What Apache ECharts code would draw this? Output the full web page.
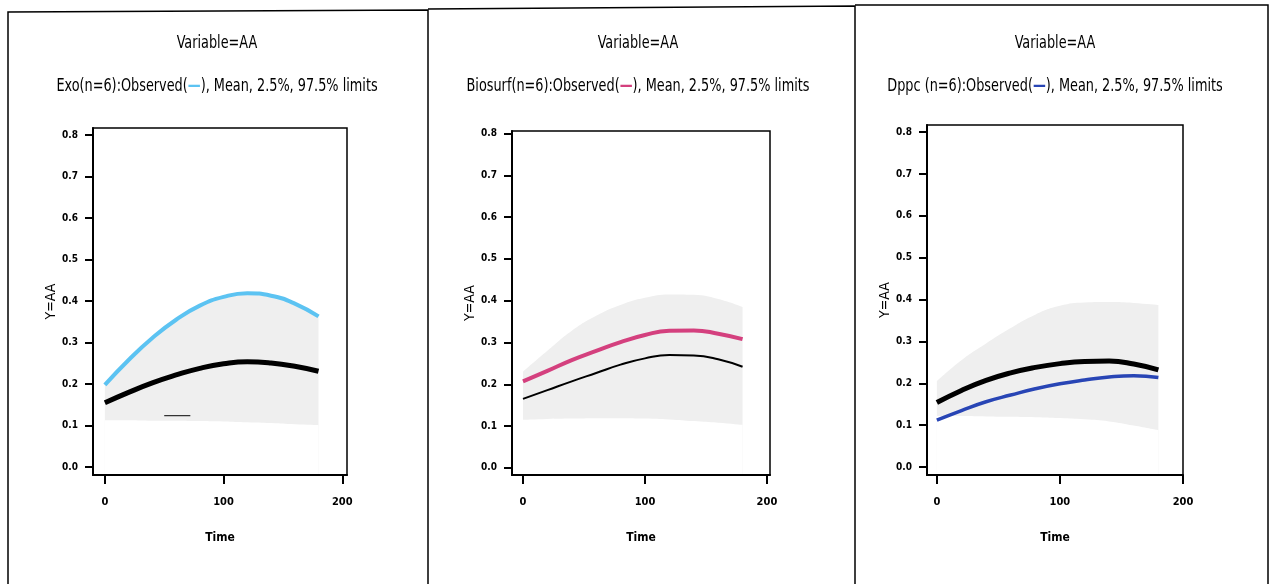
<!DOCTYPE html>
<html>
<head>
<meta charset="utf-8">
<script src="https://cdn.jsdelivr.net/npm/echarts@6/dist/echarts.min.js"></script>
<style>
html,body{margin:0;padding:0;background:#fff;}
#main{width:1275px;height:584px;}
</style>
</head>
<body>
<div id="main"></div>
<script>
// ---- data ----
const timePoints = [0, 20, 40, 60, 80, 100, 120, 140, 160, 180];
const yTickValues = [0, 0.1, 0.2, 0.3, 0.4, 0.5, 0.6, 0.7, 0.8];
const xTickValues = [0, 100, 200];

const panelNames = ['Exo', 'Biosurf', 'Dppc'];
const variableTitle = 'Variable=AA';

// Exo
const exoObserved = [0.198, 0.258, 0.311, 0.355, 0.389, 0.410, 0.419, 0.413, 0.394, 0.363];
const exoMean     = [0.155, 0.180, 0.203, 0.222, 0.238, 0.249, 0.254, 0.251, 0.243, 0.231];
const exoUpper    = [0.200, 0.260, 0.313, 0.358, 0.391, 0.412, 0.421, 0.415, 0.396, 0.364];
const exoLower    = [0.113, 0.113, 0.112, 0.112, 0.111, 0.110, 0.108, 0.106, 0.103, 0.101];
const exoLowerFragmentX = [50, 72];
const exoLowerFragmentY = [0.124, 0.124];

// Biosurf
const bioObserved = [0.207, 0.232, 0.258, 0.280, 0.301, 0.318, 0.328, 0.329, 0.321, 0.308];
const bioMean     = [0.165, 0.186, 0.207, 0.227, 0.247, 0.262, 0.270, 0.269, 0.260, 0.242];
const bioUpper    = [0.230, 0.280, 0.328, 0.364, 0.390, 0.407, 0.415, 0.414, 0.404, 0.385];
const bioLower    = [0.115, 0.117, 0.118, 0.119, 0.119, 0.118, 0.116, 0.112, 0.108, 0.103];

// Dppc
const dppcObserved = [0.112, 0.135, 0.156, 0.172, 0.187, 0.199, 0.208, 0.215, 0.218, 0.214];
const dppcMean     = [0.154, 0.183, 0.207, 0.225, 0.238, 0.247, 0.252, 0.253, 0.246, 0.232];
const dppcUpper    = [0.205, 0.255, 0.295, 0.332, 0.364, 0.385, 0.393, 0.394, 0.392, 0.387];
const dppcLower    = [0.122, 0.122, 0.121, 0.120, 0.119, 0.117, 0.114, 0.109, 0.099, 0.088];

// ---- build ----
const FONT = "'Liberation Sans Narrow','DejaVu Sans Condensed','Arial Narrow',sans-serif";
const panels = [
  {name: panelNames[0], obs: exoObserved, mean: exoMean, up: exoUpper, lo: exoLower,
   obsColor: '#5cc3f2', obsWidth: 4, meanWidth: 5,
   grid: {left: 93, top: 128, width: 254, height: 347}, xr: [-10, 204], yr: [-0.019, 0.817], cx: 217},
  {name: panelNames[1], obs: bioObserved, mean: bioMean, up: bioUpper, lo: bioLower,
   obsColor: '#d4407e', obsWidth: 4, meanWidth: 2,
   grid: {left: 512, top: 131, width: 258, height: 344}, xr: [-9, 202.5], yr: [-0.017, 0.806], cx: 638},
  {name: panelNames[2], obs: dppcObserved, mean: dppcMean, up: dppcUpper, lo: dppcLower,
   obsColor: '#2845b5', obsWidth: 3.5, meanWidth: 5,
   grid: {left: 927, top: 125, width: 256, height: 350}, xr: [-8, 200], yr: [-0.019, 0.817], cx: 1055}
];

const grids = [], xAxes = [], yAxes = [], series = [], graphics = [];
panels.forEach((p, i) => {
  grids.push(Object.assign({show: true, borderColor: '#000', borderWidth: 1.5, backgroundColor: 'transparent'}, p.grid));
  xAxes.push({
    type: 'value', gridIndex: i, min: p.xr[0], max: p.xr[1], z: 10,
    name: 'Time', nameLocation: 'middle', nameGap: 57,
    nameTextStyle: {fontFamily: FONT, fontWeight: 'bold', fontSize: 12, color: '#000'},
    axisLine: {show: true, onZero: false, lineStyle: {color: '#000', width: 2}},
    axisTick: {show: true, length: 9, lineStyle: {color: '#000', width: 2}, customValues: xTickValues},
    axisLabel: {customValues: xTickValues, fontFamily: FONT, fontWeight: 'bold', fontSize: 11, color: '#000', margin: 22,
      formatter: v => String(Math.round(v))},
    splitLine: {show: false}
  });
  yAxes.push({
    type: 'value', gridIndex: i, min: p.yr[0], max: p.yr[1], z: 10,
    name: 'Y=AA', nameLocation: 'middle', nameGap: 35,
    nameTextStyle: {fontFamily: FONT, fontSize: 14, color: '#000'},
    axisLine: {show: true, onZero: false, lineStyle: {color: '#000', width: 2}},
    axisTick: {show: true, length: 8, lineStyle: {color: '#000', width: 2}, customValues: yTickValues},
    axisLabel: {customValues: yTickValues, fontFamily: FONT, fontWeight: 'bold', fontSize: 10, color: '#000', margin: 15,
      formatter: v => v.toFixed(1)},
    splitLine: {show: false}
  });
  // limits band: gray area under the 97.5% curve, then white area under the 2.5% curve
  series.push({
    type: 'line', xAxisIndex: i, yAxisIndex: i, z: 1, smooth: true, showSymbol: false, silent: true,
    data: timePoints.map((t, k) => [t, p.up[k]]),
    lineStyle: {width: 0, opacity: 0},
    areaStyle: {color: '#efefef', opacity: 1, origin: 'start'}
  });
  series.push({
    type: 'line', xAxisIndex: i, yAxisIndex: i, z: 1.5, smooth: true, showSymbol: false, silent: true,
    data: timePoints.map((t, k) => [t, p.lo[k]]),
    lineStyle: {width: 0, opacity: 0},
    areaStyle: {color: '#ffffff', opacity: 1, origin: 'start'}
  });
  series.push({
    type: 'line', xAxisIndex: i, yAxisIndex: i, z: 3, smooth: true, showSymbol: false, silent: true,
    data: timePoints.map((t, k) => [t, p.mean[k]]),
    lineStyle: {color: '#000', width: p.meanWidth}
  });
  series.push({
    type: 'line', xAxisIndex: i, yAxisIndex: i, z: 4, smooth: true, showSymbol: false, silent: true,
    data: timePoints.map((t, k) => [t, p.obs[k]]),
    lineStyle: {color: p.obsColor, width: p.obsWidth}
  });
  graphics.push({
    type: 'text', x: p.cx, y: 44, scaleX: 0.84,
    style: {text: variableTitle, fill: '#000', fontFamily: FONT, fontSize: 17,
      textAlign: 'center', textVerticalAlign: 'middle'}
  });
  const nm = p.name === 'Dppc' ? 'Dppc (n=6)' : p.name + '(n=6)';
  graphics.push({
    type: 'text', x: p.cx, y: 87, scaleX: 0.84,
    style: {text: nm + ':Observed({c|—}), Mean, 2.5%, 97.5% limits', fill: '#000', fontFamily: FONT, fontSize: 17,
      textAlign: 'center', textVerticalAlign: 'middle',
      rich: {c: {fill: p.obsColor, color: p.obsColor, fontFamily: FONT, fontSize: 17, fontWeight: 'bold'}}}
  });
});

// small lower-limit fragment visible in first panel
series.push({
  type: 'line', xAxisIndex: 0, yAxisIndex: 0, z: 3, showSymbol: false, silent: true,
  data: exoLowerFragmentX.map((x, k) => [x, exoLowerFragmentY[k]]),
  lineStyle: {color: '#333', width: 1.2}
});

graphics.push(
  {type: 'polyline', shape: {points: [[8, 584], [8, 12], [428, 10], [428, 584]]}, style: {stroke: '#000', lineWidth: 1.5, fill: null}},
  {type: 'polyline', shape: {points: [[428, 9], [855, 6], [855, 584]]}, style: {stroke: '#000', lineWidth: 1.5, fill: null}},
  {type: 'polyline', shape: {points: [[855, 5], [1268, 5], [1268, 584]]}, style: {stroke: '#000', lineWidth: 1.5, fill: null}}
);

const chart = echarts.init(document.getElementById('main'), null, {renderer: 'canvas'});
chart.setOption({
  backgroundColor: '#fff',
  animation: false,
  grid: grids, xAxis: xAxes, yAxis: yAxes, series: series,
  graphic: graphics
});
</script>
</body>
</html>
